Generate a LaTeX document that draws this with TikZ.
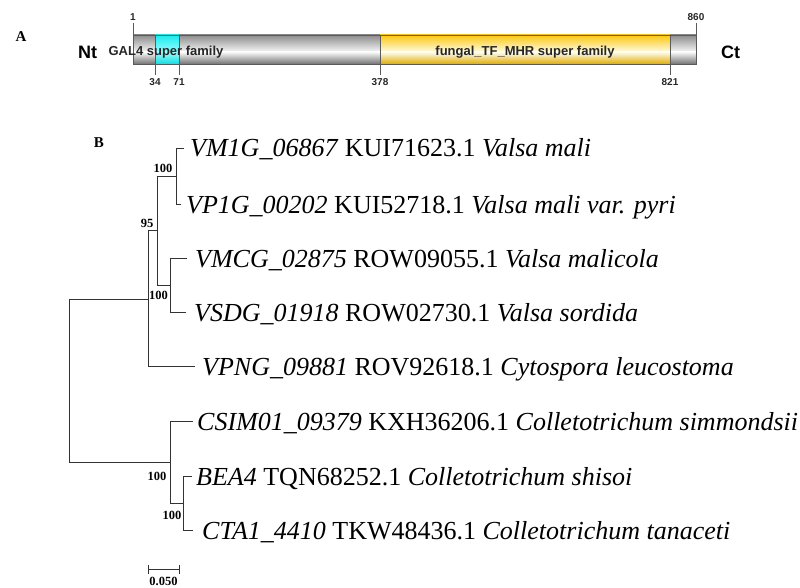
\documentclass[tikz,border=0pt]{standalone}
\usepackage{fontspec}
\setmainfont{Liberation Serif}
\setsansfont{Liberation Sans}
\definecolor{gtop}{RGB}{140,140,140}
\definecolor{gmid}{RGB}{250,250,250}
\definecolor{gbot}{RGB}{115,115,115}
\definecolor{ytop}{RGB}{250,200,20}
\definecolor{ymid}{RGB}{255,253,235}
\definecolor{ybot}{RGB}{225,172,0}
\definecolor{ctop}{RGB}{30,232,236}
\definecolor{cmid}{RGB}{150,255,255}
\definecolor{cbot}{RGB}{15,220,225}
\definecolor{edge}{RGB}{90,90,90}
\tikzset{
  panel/.style={font=\bfseries\fontsize{15}{17}\selectfont, inner sep=0pt},
  endlab/.style={font=\sffamily\bfseries\fontsize{18}{20}\selectfont, inner sep=0pt},
  poslab/.style={font=\sffamily\bfseries\fontsize{10}{12}\selectfont, inner sep=0pt, text=black!85},
  domlab/.style={font=\sffamily\bfseries\fontsize{13}{15}\selectfont, inner sep=0pt, text=black!85},
  tick/.style={draw=edge, line width=0.8pt},
  branch/.style={draw=black!80, line width=0.9pt},
  leaf/.style={font=\fontsize{26}{30}\selectfont, inner sep=0pt, anchor=base west},
  boot/.style={font=\bfseries\fontsize{12.5}{14}\selectfont, inner sep=0pt},
  uphalf/.style 2 args={top color=#1, bottom color=#2, draw=none},
}
\begin{document}
\begin{tikzpicture}[x=1pt,y=-1pt]
\useasboundingbox (0,0) rectangle (800,588);
% ---------------- Panel A ----------------
\node[panel] (labA) at (21,37) {A};
\node[endlab] (nt) at (87.5,52) {Nt};
\node[endlab] (ct) at (730.5,52) {Ct};
% gray base
\shade[uphalf={gtop}{gmid}] (133,35) rectangle (696,52.5);
\shade[uphalf={gmid}{gbot}] (133,52) rectangle (696,64);
% cyan domain
\shade[uphalf={ctop}{cmid}] (155,35) rectangle (179,52.5);
\shade[uphalf={cmid}{cbot}] (155,52) rectangle (179,64);
% yellow domain
\shade[uphalf={ytop}{ymid}] (380,35) rectangle (670,52.5);
\shade[uphalf={ymid}{ybot}] (380,52) rectangle (670,64);
\draw[edge, line width=0.8pt] (133,35) rectangle (696,64);
\draw[tick] (133,23) -- (133,64);
\draw[tick] (696,23) -- (696,64);
\draw[tick] (155,35) -- (155,75);
\draw[tick] (179,35) -- (179,75);
\draw[tick] (380,35) -- (380,75);
\draw[tick] (670,35) -- (670,75);
\node[poslab] (l1) at (133,17) {1};
\node[poslab] (l860) at (696,17) {860};
\node[poslab] (l34) at (155,82) {34};
\node[poslab] (l71) at (179,82) {71};
\node[poslab] (l378) at (380,82) {378};
\node[poslab] (l821) at (670,82) {821};
\node[domlab] (gal) at (166,52) {GAL4 super family};
\node[domlab] (fun) at (525,52) {fungal\_TF\_MHR super family};
% ---------------- Panel B ----------------
\node[panel] (labB) at (99,143) {B};
% internal nodes
\coordinate (n1) at (176,176);
\coordinate (n2) at (170,285);
\coordinate (n12) at (157,230.5);
\coordinate (n123) at (148,299);
\coordinate (nc2) at (183,503);
\coordinate (nc) at (170,462);
\coordinate (root) at (69,380.5);
% leaf ends
\coordinate (e1) at (184,148);
\coordinate (e2) at (181,204);
\coordinate (e3) at (187,258);
\coordinate (e4) at (186,312);
\coordinate (e5) at (195,366);
\coordinate (e6) at (193,421);
\coordinate (e7) at (192,476);
\coordinate (e8) at (193,530);
% branches
\draw[branch] (n1) |- (e1);
\draw[branch] (n1) |- (e2);
\draw[branch] (n2) |- (e3);
\draw[branch] (n2) |- (e4);
\draw[branch] (n12) |- (n1);
\draw[branch] (n12) |- (n2);
\draw[branch] (n123) |- (n12);
\draw[branch] (n123) |- (e5);
\draw[branch] (root) |- (n123);
\draw[branch] (root) |- (nc);
\draw[branch] (nc) |- (e6);
\draw[branch] (nc) |- (nc2);
\draw[branch] (nc2) |- (e7);
\draw[branch] (nc2) |- (e8);
% leaf labels
\node[leaf] (t1) at (190,157) {\textit{VM1G\_06867} KUI71623.1 \textit{Valsa mali}};
\node[leaf] (t2) at (186,213) {\textit{VP1G\_00202} KUI52718.1 \textit{Valsa mali var. pyri}};
\node[leaf] (t3) at (195,267) {\textit{VMCG\_02875} ROW09055.1 \textit{Valsa malicola}};
\node[leaf] (t4) at (194,321) {\textit{VSDG\_01918} ROW02730.1 \textit{Valsa sordida}};
\node[leaf] (t5) at (202,375) {\textit{VPNG\_09881} ROV92618.1 \textit{Cytospora leucostoma}};
\node[leaf] (t6) at (197,430) {\textit{CSIM01\_09379} KXH36206.1 \textit{Colletotrichum simmondsii}};
\node[leaf] (t7) at (196,485) {\textit{BEA4} TQN68252.1 \textit{Colletotrichum shisoi}};
\node[leaf] (t8) at (202,539) {\textit{CTA1\_4410} TKW48436.1 \textit{Colletotrichum tanaceti}};
% bootstrap values
\node[boot] (b1) at (163,168) {100};
\node[boot] (b2) at (147,223) {95};
\node[boot] (b3) at (158.5,295) {100};
\node[boot] (b4) at (157,476) {100};
\node[boot] (b5) at (172,515) {100};
% scale bar
\coordinate (s0) at (148,569);
\coordinate (s1) at (179,569);
\draw[branch] (s0) -- (s1);
\draw[branch] ([yshift=-4.5pt]s0) -- ([yshift=4.5pt]s0);
\draw[branch] ([yshift=-4.5pt]s1) -- ([yshift=4.5pt]s1);
\node[boot] (sl) at (163.5,581.5) {0.050};
\end{tikzpicture}
\end{document}
